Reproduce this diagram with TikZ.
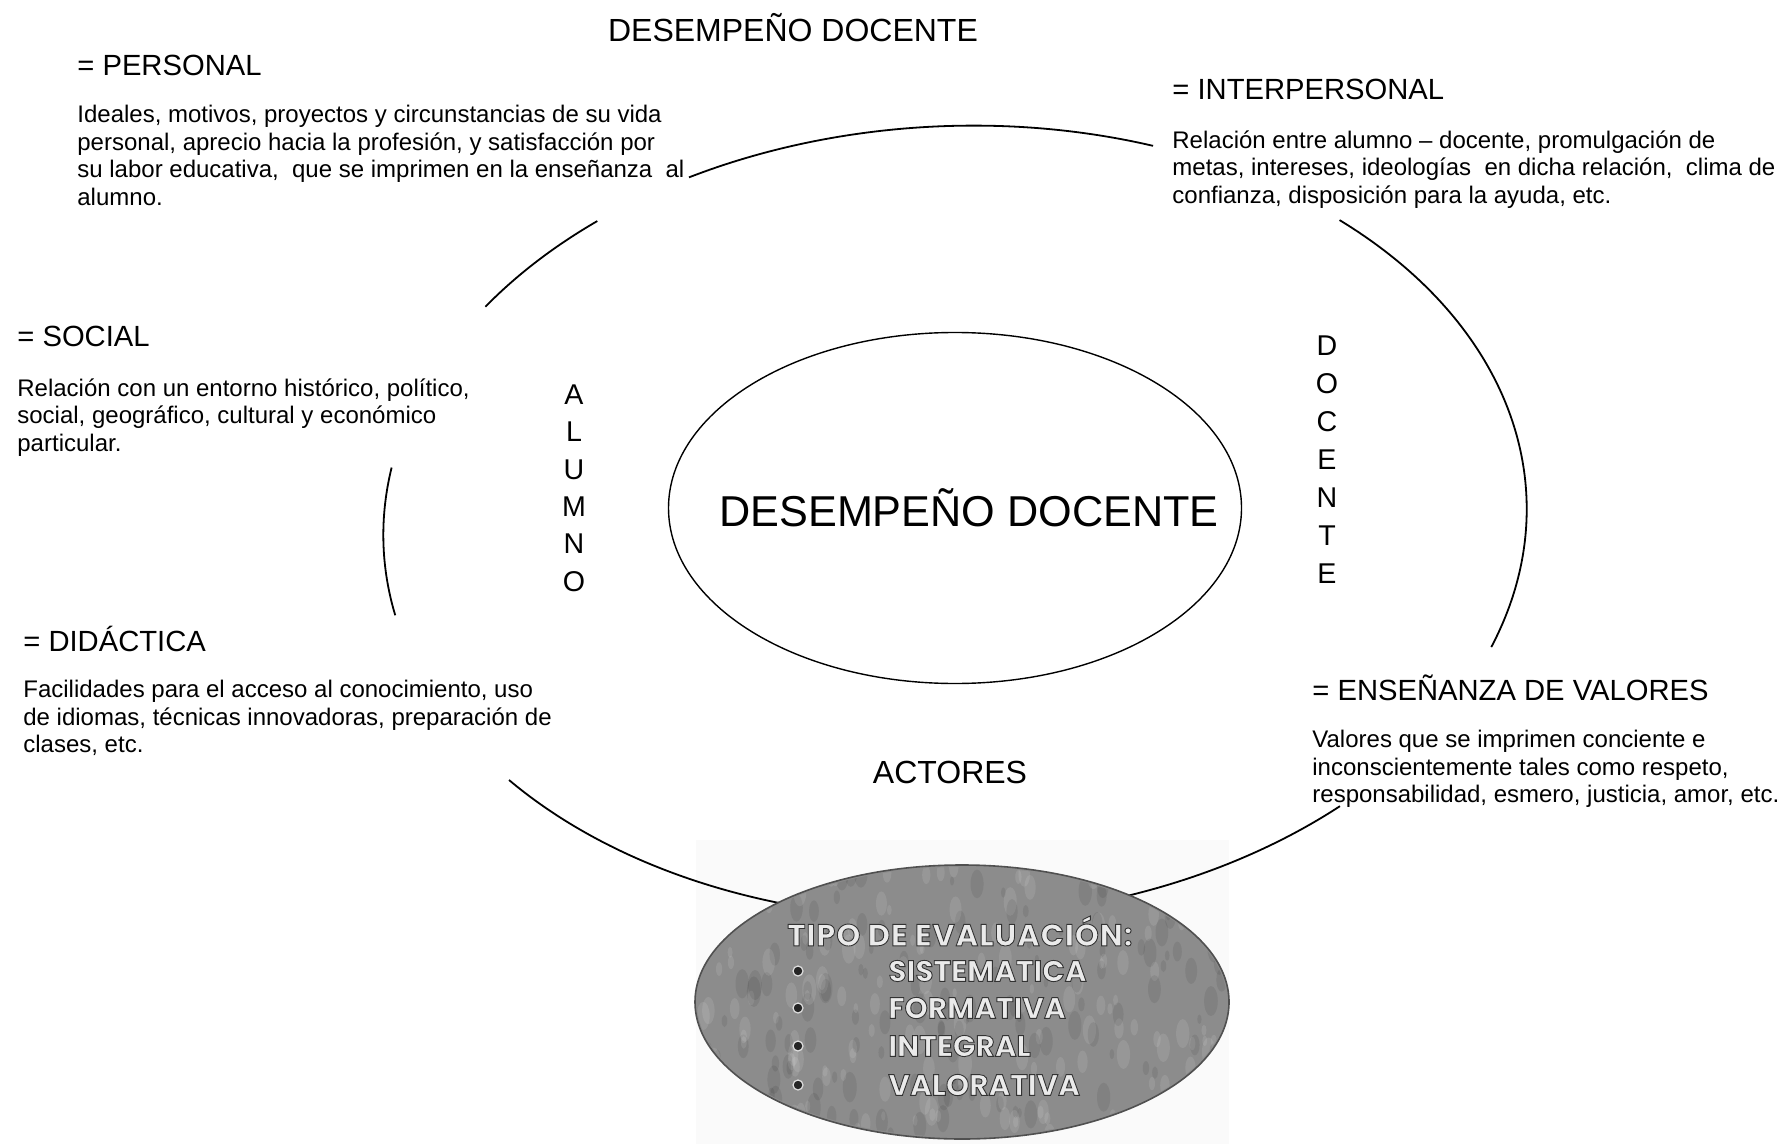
\documentclass[tikz,border=0pt]{standalone}
\usepackage{fontspec}
\setmainfont{Liberation Sans}
\newfontfamily\gothic{Poppins}
\usetikzlibrary{shapes.geometric}
\definecolor{evalgray}{HTML}{8C8C8C}
\definecolor{evalline}{HTML}{505050}
\definecolor{evaltext}{HTML}{EAEAEA}
\newcommand\outlinetext[1]{\special{pdf:literal direct 0.2 G 2 Tr 0.45 w}#1\special{pdf:literal direct 0 Tr}}
\tikzset{
  titletxt/.style={inner sep=0pt, font=\fontsize{16}{19}\selectfont},
  headtxt/.style={anchor=west, inner sep=0pt, font=\fontsize{14.6}{17}\selectfont},
  paratxt/.style={anchor=north west, align=left, inner sep=0pt, font=\fontsize{12}{13.8}\selectfont},
  verttxt/.style={align=center, inner sep=0pt},
  arcline/.style={line width=0.9pt},
  evtxt/.style={anchor=west, inner sep=0pt, text=evaltext, font=\gothic\bfseries\fontsize{14.8}{18}\selectfont},
  dotmark/.style={circle, fill=black!85, draw=gray!25, line width=0.6pt, minimum size=5pt, inner sep=0pt}
}
\begin{document}
\begin{tikzpicture}[x=0.5pt,y=-0.5pt]
\path[use as bounding box] (0,0) rectangle (1781,1144);
\clip (0,0) rectangle (1781,1144);
\fill[white] (0,0) rectangle (1781,1144);

% picture background behind the evaluation ellipse
\fill[gray!4] (696,840) rectangle (1229,1144);

% outer ellipse arcs
\begin{scope}[shift={(955,522)}, rotate=2.5]
  \draw[arcline] (-116:572 and 396) arc[start angle=-116, end angle=-68, x radius=572, y radius=396];
  \draw[arcline] (-143.5:572 and 396) arc[start angle=-143.5, end angle=-127, x radius=572, y radius=396];
  \draw[arcline] (170:572 and 396) arc[start angle=170, end angle=191.5, x radius=572, y radius=396];
  \draw[arcline] (143:572 and 396) arc[start angle=143, end angle=100, x radius=572, y radius=396];
  \draw[arcline] (49.4:572 and 396) arc[start angle=49.4, end angle=80, x radius=572, y radius=396];
  \draw[arcline] (-46:572 and 396) arc[start angle=-46, end angle=22, x radius=572, y radius=396];
\end{scope}

% titles
\node[titletxt] (toptitle) at (793,28) {DESEMPEÑO DOCENTE};
\node[titletxt] (actores) at (950,772) {ACTORES};

% inner ellipse
\node[draw, ellipse, line width=0.7pt, minimum width=286.5pt, minimum height=175.5pt, inner sep=0pt] (inner) at (955,508) {};
\node[inner sep=0pt, font=\fontsize{21.6}{25}\selectfont] (ctitle) at (969,508) {DESEMPEÑO DOCENTE};

% vertical words
\node[verttxt, font=\fontsize{14.3}{18.7}\selectfont] (alumno) at (574,488) {A\\L\\U\\M\\N\\O};
\node[verttxt, font=\fontsize{14.3}{19}\selectfont] (docente) at (1327,460) {D\\O\\C\\E\\N\\T\\E};

% headings and paragraphs
\node[headtxt] (hpers) at (77,65) {= PERSONAL};
\node[paratxt] (ppers) at (77,105) {Ideales, motivos, proyectos y circunstancias de su vida\\personal, aprecio hacia la profesión, y satisfacción por\\su labor educativa,\ \ que se imprimen en la enseñanza\ \ al\\alumno.};

\node[headtxt] (hinter) at (1172,89) {= INTERPERSONAL};
\node[paratxt] (pinter) at (1172,130) {Relación entre alumno – docente, promulgación de\\metas, intereses, ideologías\ \ en dicha relación,\ \ clima de\\confianza, disposición para la ayuda, etc.};

\node[headtxt] (hsoc) at (17,336) {= SOCIAL};
\node[paratxt] (psoc) at (17,378) {Relación con un entorno histórico, político,\\social, geográfico, cultural y económico\\particular.};

\node[headtxt] (hdid) at (23,639) {= DIDÁCTICA};
\node[paratxt] (pdid) at (23,680) {Facilidades para el acceso al conocimiento, uso\\de idiomas, técnicas innovadoras, preparación de\\clases, etc.};

\node[headtxt] (hval) at (1312,688) {= ENSEÑANZA DE VALORES};
\node[paratxt] (pval) at (1312,730) {Valores que se imprimen conciente e\\inconscientemente tales como respeto,\\responsabilidad, esmero, justicia, amor, etc.};

% evaluation ellipse
\node[ellipse, fill=evalgray, draw=evalline, line width=0.8pt, minimum width=267pt, minimum height=137pt, inner sep=0pt] (eval) at (962,1002) {};
\begin{scope}
  \clip (962,1002) ellipse [x radius=265, y radius=135];
  \pgfmathsetseed{4242}
  \foreach \k in {1,...,320} {
    \pgfmathsetmacro{\px}{700+530*rnd}
    \pgfmathsetmacro{\py}{866+272*rnd}
    \pgfmathsetmacro{\pr}{2+5*rnd}
    \pgfmathsetmacro{\pc}{rnd>0.5 ? 1 : 0}
    \ifdim\pc pt>0.5pt
      \fill[white, opacity=0.10] (\px,\py) ellipse [x radius=\pr, y radius=2.2*\pr];
    \else
      \fill[black, opacity=0.08] (\px,\py) ellipse [x radius=\pr, y radius=2.2*\pr];
    \fi
  }
\end{scope}
\node[evtxt, font=\gothic\bfseries\fontsize{15.3}{18}\selectfont\addfontfeature{LetterSpace=3}] (evtitle) at (787,931) {\outlinetext{TIPO DE EVALUACIÓN:}};
\node[dotmark] (d1) at (798,971) {};
\node[dotmark] (d2) at (798,1008) {};
\node[dotmark] (d3) at (798,1046) {};
\node[dotmark] (d4) at (798,1085) {};
\node[evtxt] (e1) at (888,971) {\outlinetext{SISTEMATICA}};
\node[evtxt] (e2) at (888,1008) {\outlinetext{FORMATIVA}};
\node[evtxt] (e3) at (888,1046) {\outlinetext{INTEGRAL}};
\node[evtxt] (e4) at (888,1085) {\outlinetext{VALORATIVA}};
\end{tikzpicture}
\end{document}
